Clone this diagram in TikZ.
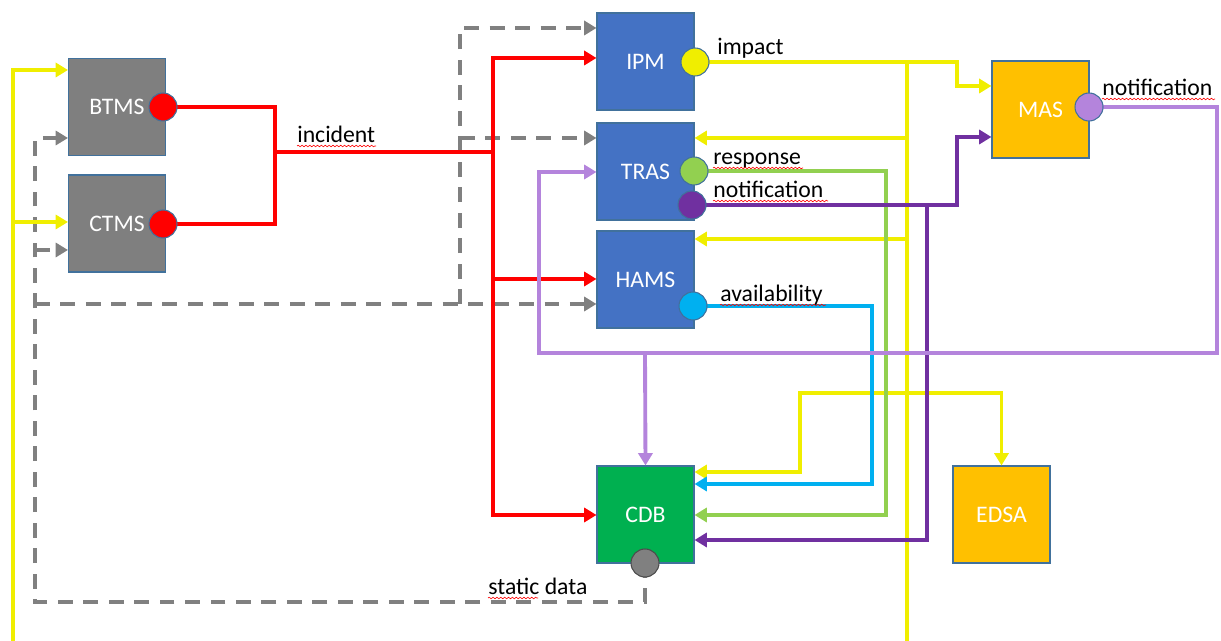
\documentclass[tikz,border=0pt]{standalone}
\usepackage{fontspec}
\setmainfont{Carlito}
\usetikzlibrary{arrows.meta,decorations.pathmorphing}

\definecolor{boxgray}{RGB}{127,127,127}
\definecolor{boxblue}{RGB}{68,114,196}
\definecolor{boxorange}{RGB}{255,192,0}
\definecolor{boxgreen}{RGB}{0,176,80}
\definecolor{edgeblue}{RGB}{65,113,156}
\definecolor{cred}{RGB}{255,0,0}
\definecolor{cyel}{RGB}{240,238,0}
\definecolor{cgreen}{RGB}{146,208,80}
\definecolor{ccyan}{RGB}{0,176,240}
\definecolor{cpurple}{RGB}{112,48,160}
\definecolor{clav}{RGB}{180,132,220}
\definecolor{cgray}{RGB}{128,128,128}

\begin{document}
\begin{tikzpicture}[x=0.02cm,y=-0.02cm,
  sysbox/.style={draw=edgeblue,line width=0.6pt,minimum width=1.94cm,minimum height=1.94cm,
    inner sep=0pt,text=white,font=\fontsize{13.5}{15}\selectfont},
  port/.style={circle,draw=edgeblue,line width=0.6pt,minimum size=0.56cm,inner sep=0pt},
  flow/.style={line width=2.2pt,line join=miter},
  tip/.style={-{Triangle[length=7pt,width=8pt]}},
  dflow/.style={flow,color=cgray,dash pattern=on 8.5pt off 6pt},
  lbl/.style={anchor=base west,inner sep=0pt,font=\fontsize{13.5}{15}\selectfont},
  squig/.style={cred,line width=0.35pt,decorate,decoration={snake,amplitude=0.45pt,segment length=2.2pt}}]

\useasboundingbox (0,0) rectangle (1221,641);

% systems
\node[sysbox,fill=boxgray]   (btms) at (117,107)    {BTMS};
\node[sysbox,fill=boxgray]   (ctms) at (117,223.5)  {CTMS};
\node[sysbox,fill=boxblue]   (ipm)  at (645.5,61.5) {IPM};
\node[sysbox,fill=boxblue]   (tras) at (645.5,171.5){TRAS};
\node[sysbox,fill=boxblue]   (hams) at (645.5,279.5){HAMS};
\node[sysbox,fill=boxgreen]  (cdb)  at (645.5,514.5){CDB};
\node[sysbox,fill=boxorange] (mas)  at (1040.5,109.5){MAS};
\node[sysbox,fill=boxorange] (edsa) at (1001.5,514.5){EDSA};

% output port positions (circles drawn on top below)
\coordinate (btmsP) at (163,107);
\coordinate (ctmsP) at (163,224);
\coordinate (ipmP)  at (695,62);
\coordinate (trasR) at (694,171);
\coordinate (trasN) at (692,205);
\coordinate (hamsP) at (693,306);
\coordinate (masP)  at (1089,107);
\coordinate (cdbP)  at (645,563);

% static data (dashed grey)
\draw[dflow,tip] (cdbP) -- (645,602) -- (35,602) -- (35,138) -- (btms.west |- 0,138);
\draw[dflow,tip] (35,250) -- (ctms.west |- 0,250);
\draw[dflow,tip] (35,304) -- (hams.west |- 0,304);
\draw[dflow,tip] (460,304) -- (460,28) -- (ipm.west |- 0,28);
\draw[dflow,tip] (460,138) -- (tras.west |- 0,138);

% incident (red)
\draw[flow,cred] (btmsP) -- (275,107) -- (275,224) -- (ctmsP);
\draw[flow,cred] (275,152) -- (493,152);
\draw[flow,cred,tip] (493,152) |- (ipm.west |- 0,58);
\draw[flow,cred,tip] (493,152) |- (hams.west |- 0,279);
\draw[flow,cred,tip] (493,152) |- (cdb.west |- 0,515);

% yellow feeds
\draw[flow,cyel,tip] (13,641) -- (13,70) -- (btms.west |- 0,70);
\draw[flow,cyel,tip] (13,222) -- (ctms.west |- 0,222);
\draw[flow,cyel] (907,62) -- (907,641);
\draw[flow,cyel,tip] (907,138) -- (tras.east |- 0,138);
\draw[flow,cyel,tip] (907,239) -- (hams.east |- 0,239);
\draw[flow,cyel,tip] (907,393) -- (800,393) -- (800,472) -- (cdb.east |- 0,472);
\draw[flow,cyel,tip] (907,393) -| (edsa.north);

% availability (cyan)
\draw[flow,ccyan,tip] (hamsP) -- (872,306) -- (872,484) -- (cdb.east |- 0,484);
% response (green)
\draw[flow,cgreen,tip] (trasR) -- (886,171) -- (886,515) -- (cdb.east |- 0,515);
% impact (yellow)
\draw[flow,cyel,tip] (ipmP) -- (957,62) -- (957,86) -- (mas.west |- 0,86);
% notification (purple)
\draw[flow,cpurple,tip] (trasN) -- (957,205) -- (957,137) -- (mas.west |- 0,137);
\draw[flow,cpurple,tip] (927,205) -- (927,540) -- (cdb.east |- 0,540);
% notification (lavender)
\draw[flow,clav,tip] (masP) -- (1217,107) -- (1217,353) -- (539,353) -- (539,172) -- (tras.west |- 0,172);
\draw[flow,clav,tip] (645,353) -- (cdb.north);

% ports
\node[port,fill=cred]    at (btmsP) {};
\node[port,fill=cred]    at (ctmsP) {};
\node[port,fill=cyel]    at (ipmP)  {};
\node[port,fill=cgreen]  at (trasR) {};
\node[port,fill=cpurple] at (trasN) {};
\node[port,fill=ccyan]   at (hamsP) {};
\node[port,fill=clav]    at (masP)  {};
\node[port,fill=cgray,draw=black!70] at (cdbP) {};

% labels
\node[lbl] (limpact) at (717,55)  {impact};
\node[lbl] (lresp)   at (713,165) {response};
\node[lbl] (lnotT)   at (713,198) {notification};
\node[lbl] (lavail)  at (720,302) {availability};
\node[lbl] (lnotM)   at (1102,96) {notification};
\node[lbl] (linc)    at (297,143) {incident};
\node[lbl] (lstat)   at (488,595) {static data};

% spelling marks under words
\draw[squig] (713,168) -- (803,168);
\draw[squig] (713,201) -- (828,201);
\draw[squig] (720,305) -- (826,305);
\draw[squig] (1102,99) -- (1215,99);
\draw[squig] (297,146) -- (376,146);
\draw[squig] (488,598) -- (538,598);
\end{tikzpicture}
\end{document}
